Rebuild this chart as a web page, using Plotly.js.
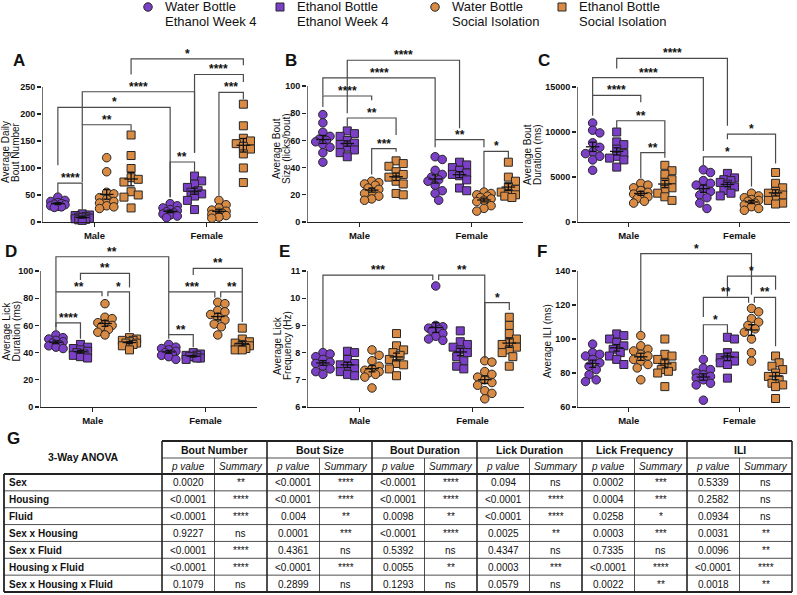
<!DOCTYPE html>
<html><head><meta charset="utf-8">
<script src="https://cdn.plot.ly/plotly-3.0.1.min.js"></script>
<style>html,body{margin:0;padding:0;background:#fff}#chart{width:797px;height:595px}</style>
</head><body><div id="chart"></div>
<script>
// ---------------- DATA ----------------
// group order in every panel: Male [Water EW4, Ethanol EW4, Water SI, Ethanol SI], Female [same]
const legendLabels = [['Water Bottle','Ethanol Week 4'],['Ethanol Bottle','Ethanol Week 4'],['Water Bottle','Social Isolation'],['Ethanol Bottle','Social Isolation']];
const sexLabels = ['Male','Female'];

const boutNumber = [
  [46,40,38,36,34,33,32,30,29,28,27],
  [15,13,12,10,9,8,7,6,5,4,3],
  [119,93,55,52,45,42,38,35,30,28,25],
  [161,123,99,82,79,74,56,50,46,26],
  [34,30,26,23,21,19,17,15,13,11,8],
  [85,76,70,64,58,55,52,48,40,23],
  [40,32,26,22,20,18,16,14,12,9,7],
  [218,178,155,150,145,140,135,126,100,73]
];
const boutSize = [
  [79,73,66,63,61,60,59,57,55,51,44],
  [67,65,63,60,58,57,55,53,51,48],
  [30,29,28,27,25,24,22,21,19,17,16],
  [45,43,41,37,35,33,30,28,21,20],
  [48,46,38,35,33,31,30,27,23,21,16],
  [44,42,40,38,36,35,34,31,25,23],
  [22,21,20,19,18,17,16,15,12,10,8],
  [44,33,30,26,24,22,21,20,19,18]
];
const boutDuration = [
  [11000,10200,9900,8800,8300,7800,7600,7300,6900,5750],
  [10000,8900,8600,8100,7600,7300,7100,6900,6100],
  [4300,4100,3800,3500,3300,3100,3000,2800,2600,2300,2100],
  [6300,5700,5300,4700,4400,3800,3600,3200,2800,2400],
  [5800,5500,4600,4300,4100,3700,3400,3000,2700,2100,1500],
  [5400,4900,4700,4600,4400,4200,3900,3500,3200,2900],
  [3200,2900,2700,2500,2400,2300,2100,1900,1700,1500,1300],
  [5500,4300,3800,3400,3200,3000,2700,2400,2100,2000]
];
const lickDuration = [
  [53,51,50,49,48,47,46,45,44,43],
  [46,44,43,42,41,40,39,38,37,36],
  [76,66,65,62,61,60,59,57,55,53],
  [51,50,49,49,48,47,47,46,45,42],
  [46,44,43,42,41,40,39,38,37,35],
  [40,39,38,38,37,37,36,36,35],
  [77,76,71,70,68,66,64,61,59,53],
  [58,50,48,47,46,45,44,43,42,42]
];
const lickFrequency = [
  [8.0,7.95,7.85,7.75,7.65,7.6,7.5,7.4,7.3,7.2],
  [8.05,8.0,7.75,7.6,7.55,7.5,7.4,7.3,7.2,7.15],
  [8.1,7.9,7.7,7.5,7.4,7.35,7.3,7.25,7.2,7.1,6.7],
  [8.7,8.25,8.1,8.0,7.9,7.75,7.6,7.55,7.4,7.15],
  [10.45,9.0,8.95,8.9,8.85,8.8,8.7,8.6,8.5,8.45],
  [8.8,8.4,8.3,8.2,8.1,8.0,7.85,7.7,7.5,7.4],
  [7.7,7.65,7.3,7.2,7.1,7.0,6.9,6.8,6.6,6.5,6.3],
  [9.3,9.0,8.7,8.5,8.4,8.3,8.2,8.1,8.0,7.85,7.5]
];
const iliValues = [
  [97,92,91,90,88,86,84,82,79,76,75],
  [103,102,100,98,96,94,92,90,88,85],
  [102,96,94,93,91,90,88,87,85,83,76],
  [100,91,90,88,86,84,82,81,80,72],
  [88,83,82,80,79,78,77,76,74,73,64],
  [101,100,92,90,89,88,87,86,85,77],
  [118,116,112,110,108,106,104,100,92,87],
  [90,86,84,82,80,78,76,74,73,72,65]
];

// significance brackets: groups a-b, bar level, leg ends, label
const sigA = [
  {a:0,b:1,y:72,ya:52,yb:20,t:'****'},
  {a:1,b:3,y:180,ya:74,yb:170,t:'**'},
  {a:0,b:4,y:212,ya:105,yb:46,t:'*'},
  {a:1,b:5,y:241,ya:180,yb:128,t:'****'},
  {a:4,b:5,y:111,ya:46,yb:93,t:'**'},
  {a:3,b:7,y:302,ya:273,yb:290,t:'*'},
  {a:5,b:7,y:273,ya:128,yb:259,t:'****'},
  {a:6,b:7,y:240,ya:49,yb:227,t:'***'}
];
const sigB = [
  {a:1,b:5,y:119,ya:80,yb:69,t:'****'},
  {a:0,b:4,y:106,ya:93,yb:61,t:'****'},
  {a:0,b:2,y:92.7,ya:84.6,yb:89.5,t:'****'},
  {a:1,b:3,y:76.5,ya:70,yb:64,t:'**'},
  {a:2,b:3,y:54,ya:35,yb:51.6,t:'***'},
  {a:4,b:6,y:60.6,ya:55,yb:55,t:'**'},
  {a:6,b:7,y:52,ya:25,yb:47,t:'*'}
];
const sigC = [
  {a:1,b:5,y:18180,ya:17050,yb:10700,t:'****'},
  {a:0,b:4,y:16050,ya:14060,yb:7880,t:'****'},
  {a:0,b:2,y:14060,ya:11810,yb:13310,t:'****'},
  {a:1,b:3,y:11250,ya:10320,yb:7700,t:'**'},
  {a:2,b:3,y:7700,ya:4890,yb:7130,t:'**'},
  {a:4,b:6,y:7240,ya:6200,yb:3950,t:'*'},
  {a:5,b:7,y:9760,ya:9190,yb:6500,t:'*'}
];
const sigD = [
  {a:0,b:4,y:110.5,ya:84.7,yb:84.7,t:'**'},
  {a:1,b:3,y:98.2,ya:93.3,yb:87.9,t:'**'},
  {a:0,b:2,y:84.7,ya:58.8,yb:81.5,t:'**',db:-0.12},
  {a:2,b:3,y:84.7,ya:81.5,yb:55,t:'*',da:0.12},
  {a:0,b:1,y:61.8,ya:56.4,yb:50.2,t:'****'},
  {a:5,b:7,y:101.9,ya:97,yb:84.7,t:'**'},
  {a:4,b:6,y:84.7,ya:53.2,yb:80.5,t:'***',db:-0.12},
  {a:6,b:7,y:84.7,ya:80.5,yb:62.5,t:'**',da:0.12},
  {a:4,b:5,y:53.2,ya:50.2,yb:44,t:'**'}
];
const sigE = [
  {a:0,b:4,y:10.85,ya:8.16,yb:10.67,t:'***',db:-0.12},
  {a:4,b:6,y:10.85,ya:10.67,yb:7.79,t:'**',da:0.12},
  {a:6,b:7,y:9.84,ya:7.79,yb:9.57,t:'*'}
];
const sigF = [
  {a:2,b:6,y:150.3,ya:104.4,yb:126,t:'*'},
  {a:5,b:7,y:137,ya:125,yb:129,t:'*'},
  {a:4,b:6,y:124.5,ya:113,yb:121.4,t:'**',db:-0.12},
  {a:6,b:7,y:124.5,ya:121.4,yb:95.7,t:'**',da:0.12},
  {a:4,b:5,y:108.4,ya:91.3,yb:103.4,t:'*'}
];

// 3-way ANOVA table
const anovaFactors = ['Sex','Housing','Fluid','Sex x Housing','Sex x Fluid','Housing x Fluid','Sex x Housing x Fluid'];
const anovaMeasures = ['Bout Number','Bout Size','Bout Duration','Lick Duration','Lick Frequency','ILI'];
const pBoutNumber = ['0.0020','<0.0001','<0.0001','0.9227','<0.0001','<0.0001','0.1079'];
const sBoutNumber = ['**','****','****','ns','****','****','ns'];
const pBoutSize = ['<0.0001','<0.0001','0.004','0.0001','0.4361','<0.0001','0.2899'];
const sBoutSize = ['****','****','**','***','ns','****','ns'];
const pBoutDuration = ['<0.0001','<0.0001','0.0098','<0.0001','0.5392','0.0055','0.1293'];
const sBoutDuration = ['****','****','**','****','ns','**','ns'];
const pLickDuration = ['0.094','<0.0001','<0.0001','0.0025','0.4347','0.0003','0.0579'];
const sLickDuration = ['ns','****','****','**','ns','***','ns'];
const pLickFrequency = ['0.0002','0.0004','0.0258','0.0003','0.7335','<0.0001','0.0022'];
const sLickFrequency = ['***','***','*','***','ns','****','**'];
const pILI = ['0.5339','0.2582','0.0934','0.0031','0.0096','<0.0001','0.0018'];
const sILI = ['ns','ns','ns','**','**','****','**'];

// ---------------- DRAWING ----------------
const W = 797, H = 595;
const FONT = 'Liberation Sans, Arial, Helvetica, sans-serif';
const PURPLE = '#7b3fc8', ORANGE = '#d98b44', EDGE = '#262626', INK = '#111';
const pos = [0,1,2,3,4.6,5.6,6.6,7.6];
const XR = [-0.65, 8.2];

const panels = [
  {L:'A', data:boutNumber, sig:sigA, xpx:[42,258], ypx:[48,222], yr:[0,322], ticks:[0,50,100,150,200,250],
   title:['Average Daily','Bout Number'], tx:[5,15], ty:152, letter:[19,61]},
  {L:'B', data:boutSize, sig:sigB, xpx:[307,523], ypx:[48,222], yr:[0,128], ticks:[0,20,40,60,80,100],
   title:['Average Bout','Size (licks/bout)'], tx:[276,286], ty:149, letter:[291,61]},
  {L:'C', data:boutDuration, sig:sigC, xpx:[577,790], ypx:[48,222], yr:[0,19333], ticks:[0,5000,10000,15000],
   title:['Average Bout','Duration (ms)'], tx:[528,538], ty:155, letter:[544,61]},
  {L:'D', data:lickDuration, sig:sigD, xpx:[40,257], ypx:[243,407], yr:[0,120.6], ticks:[0,20,40,60,80,100],
   title:['Average Lick','Duration (ms)'], tx:[5.5,15.5], ty:331, letter:[11,251]},
  {L:'E', data:lickFrequency, sig:sigE, xpx:[307,524], ypx:[243,407], yr:[6,12.03], ticks:[6,7,8,9,10,11],
   title:['Average Lick','Frequency (Hz)'], tx:[277,287], ty:346, letter:[284,251]},
  {L:'F', data:iliValues, sig:sigF, xpx:[577,790], ypx:[243,407], yr:[60,156.5], ticks:[60,80,100,120,140],
   title:['Average ILI (ms)'], tx:[547], ty:341, letter:[542,251]}
];

function swarm(vals, pxY, diam){
  const idx = vals.map((v,i)=>i).sort((a,b)=>vals[b]-vals[a]);
  const placed = [], off = new Array(vals.length).fill(0);
  const step = diam*0.42;
  const cands = [0]; for(let k=1;k<=2;k++){cands.push(k*step, -k*step);}
  for(const i of idx){
    const yp = vals[i]*pxY;
    let best = null, bestD = -1;
    for(const c of cands){
      let md = Infinity;
      for(const p of placed){ md = Math.min(md, Math.hypot(p.x-c, p.y-yp)); }
      if(md >= diam*0.8){ best = c; break; }
      if(md > bestD){ bestD = md; best = c; }
    }
    placed.push({x:best, y:yp}); off[i] = best;
  }
  return off;
}

const traces = [], annotations = [], shapes = [];
const layout = {width:W, height:H, margin:{l:0,r:0,t:0,b:0}, showlegend:false,
  paper_bgcolor:'#fff', plot_bgcolor:'rgba(0,0,0,0)', font:{family:FONT, color:INK}};

function ann(x,y,text,o){ annotations.push(Object.assign({xref:'paper',yref:'paper',x:x/W,y:1-y/H,text:text,showarrow:false,
  xanchor:'center',yanchor:'middle',font:{family:FONT,size:10,color:INK}},o||{})); }

panels.forEach((p,k)=>{
  const n = k+1, xa = 'x'+(n===1?'':n), ya = 'y'+(n===1?'':n);
  layout['xaxis'+(n===1?'':n)] = {domain:[p.xpx[0]/W, p.xpx[1]/W], range:XR, anchor:ya, showline:true, linewidth:1.3, linecolor:'#222',
    ticks:'outside', ticklen:4, tickwidth:1.3, tickcolor:'#222', tickvals:[1.5,6.1], ticktext:sexLabels,
    tickfont:{family:FONT,size:9.5,color:INK,weight:'bold'}, showgrid:false, zeroline:false, fixedrange:true};
  layout['yaxis'+(n===1?'':n)] = {domain:[1-p.ypx[1]/H, 1-p.ypx[0]/H], range:p.yr, anchor:xa, showline:false,
    ticks:'outside', ticklen:4, tickwidth:1.3, tickcolor:'#222', tickvals:p.ticks, ticktext:p.ticks.map(String),
    tickfont:{family:FONT,size:9,color:INK,weight:'bold'}, showgrid:false, zeroline:false, fixedrange:true};
  const pxX = (p.xpx[1]-p.xpx[0])/(XR[1]-XR[0]);
  const pxY = (p.ypx[1]-p.ypx[0])/(p.yr[1]-p.yr[0]);
  p.data.forEach((vals,g)=>{
    const off = swarm(vals, pxY, 8.5);
    traces.push({type:'scatter', mode:'markers', xaxis:xa, yaxis:ya, cliponaxis:false, hoverinfo:'skip',
      x: vals.map((v,i)=>pos[g]+off[i]/pxX), y: vals,
      marker:{symbol: g%2 ? 'square':'circle', size: g%2 ? 8 : 8.5, color: (g%4)<2 ? PURPLE : ORANGE, line:{color:EDGE,width:1}}});
  });
  const mx = [], my = [];
  p.data.forEach((vals,g)=>{
    const nn = vals.length, m = vals.reduce((a,b)=>a+b,0)/nn;
    const sd = Math.sqrt(vals.reduce((a,b)=>a+(b-m)*(b-m),0)/(nn-1)), se = sd/Math.sqrt(nn);
    const c = pos[g];
    mx.push(c-0.28,c+0.28,null,c,c,null,c-0.14,c+0.14,null,c-0.14,c+0.14,null);
    my.push(m,m,null,m-se,m+se,null,m+se,m+se,null,m-se,m-se,null);
  });
  traces.push({type:'scatter', mode:'lines', xaxis:xa, yaxis:ya, x:mx, y:my, cliponaxis:false, hoverinfo:'skip',
    line:{color:'#111', width:1.3}});
  const bx = [], by = [];
  p.sig.forEach(s=>{
    const x1 = pos[s.a]+(s.da||0), x2 = pos[s.b]+(s.db||0);
    bx.push(x1,x1,x2,x2,null); by.push(s.ya,s.y,s.y,s.yb,null);
    annotations.push({xref:xa, yref:ya, x:(x1+x2)/2, y:s.y, text:s.t, showarrow:false, xanchor:'center', yanchor:'bottom',
      yshift:-4, font:{family:FONT,size:12,color:INK,weight:'bold'}});
  });
  traces.push({type:'scatter', mode:'lines', xaxis:xa, yaxis:ya, x:bx, y:by, cliponaxis:false, hoverinfo:'skip',
    line:{color:'#4a4a4a', width:1.2}});
  traces.push({type:'scatter', mode:'lines', xaxis:xa, yaxis:ya, x:[XR[0],XR[0]], y:[p.ticks[0], p.ticks[p.ticks.length-1]],
    cliponaxis:false, hoverinfo:'skip', line:{color:'#222', width:1.3}});
  p.title.forEach((t,i)=> ann(p.tx[i], p.ty, t, {textangle:-90, font:{family:FONT,size:10,color:INK}}));
  ann(p.letter[0], p.letter[1], p.L, {font:{family:FONT,size:17,color:INK,weight:'bold'}});
});

// legend (pixel overlay axes)
layout.xaxis7 = {domain:[0,1], range:[0,W], visible:false, fixedrange:true, anchor:'y7'};
layout.yaxis7 = {domain:[0,1], range:[H,0], visible:false, fixedrange:true, anchor:'x7'};
const legX = [148, 280, 435, 562];
legendLabels.forEach((lab,g)=>{
  traces.push({type:'scatter', mode:'markers', xaxis:'x7', yaxis:'y7', x:[legX[g]], y:[7], hoverinfo:'skip', cliponaxis:false,
    marker:{symbol: g%2 ? 'square':'circle', size: g%2 ? 8 : 8.5, color: g<2 ? PURPLE : ORANGE, line:{color:EDGE,width:1}}});
  ann(legX[g]+15, 7, lab[0], {xanchor:'left', font:{family:FONT,size:13,color:INK}});
  ann(legX[g]+15, 22, lab[1], {xanchor:'left', font:{family:FONT,size:13,color:INK}});
});

// ---------------- TABLE G ----------------
ann(13, 438, 'G', {font:{family:FONT,size:17,color:INK,weight:'bold'}});
const pCols = [pBoutNumber,pBoutSize,pBoutDuration,pLickDuration,pLickFrequency,pILI];
const sCols = [sBoutNumber,sBoutSize,sBoutDuration,sLickDuration,sLickFrequency,sILI];
const tL = 4, tC = 162, tR = 792, blockW = (tR-tC)/6;
const h1 = 441, h2 = 458, b0 = 474, rowH = (592-474)/7, bEnd = 592;
function line(x0,y0,x1,y1,w){ shapes.push({type:'line', xref:'paper', yref:'paper', x0:x0/W, x1:x1/W, y0:1-y0/H, y1:1-y1/H,
  line:{color:'#222', width:w}}); }
line(tC, h2, tR, h2, 0.8);
for(let r=1;r<7;r++) line(tL, b0+r*rowH, tR, b0+r*rowH, 0.8);
for(let b=0;b<6;b++) line(tC+b*blockW+blockW/2, h2, tC+b*blockW+blockW/2, bEnd, 0.8);
for(let b=0;b<=6;b++) line(tC+b*blockW, h1, tC+b*blockW, bEnd, 1.6);
line(tC, h1, tR, h1, 1.8);
line(tL, b0, tR, b0, 1.8);
line(tL, bEnd, tR, bEnd, 1.8);
line(tL, b0, tL, bEnd, 1.8);
ann((tL+tC)/2, 457, '3-Way ANOVA', {font:{family:FONT,size:10.5,color:INK,weight:'bold'}});
anovaMeasures.forEach((m,b)=>{
  const x0 = tC+b*blockW;
  ann(x0+blockW/2, (h1+h2)/2+0.5, m, {font:{family:FONT,size:10.5,color:INK,weight:'bold'}});
  ann(x0+blockW/4, (h2+b0)/2+0.5, 'p value', {font:{family:FONT,size:10,color:INK,style:'italic'}});
  ann(x0+3*blockW/4, (h2+b0)/2+0.5, 'Summary', {font:{family:FONT,size:10,color:INK,style:'italic'}});
  anovaFactors.forEach((f,r)=>{
    const yc = b0+(r+0.5)*rowH+0.5;
    ann(x0+blockW/4, yc, pCols[b][r].replace('<','&lt;'), {font:{family:FONT,size:10,color:INK}});
    ann(x0+3*blockW/4, yc, sCols[b][r], {font:{family:FONT,size:10,color:INK}});
  });
});
anovaFactors.forEach((f,r)=>{
  ann(tL+3, b0+(r+0.5)*rowH+0.5, f, {xanchor:'left', font:{family:FONT,size:10,color:INK,weight:'bold'}});
});

layout.annotations = annotations;
layout.shapes = shapes;
Plotly.newPlot('chart', traces, layout, {displayModeBar:false, staticPlot:true});
</script>
</body></html>
